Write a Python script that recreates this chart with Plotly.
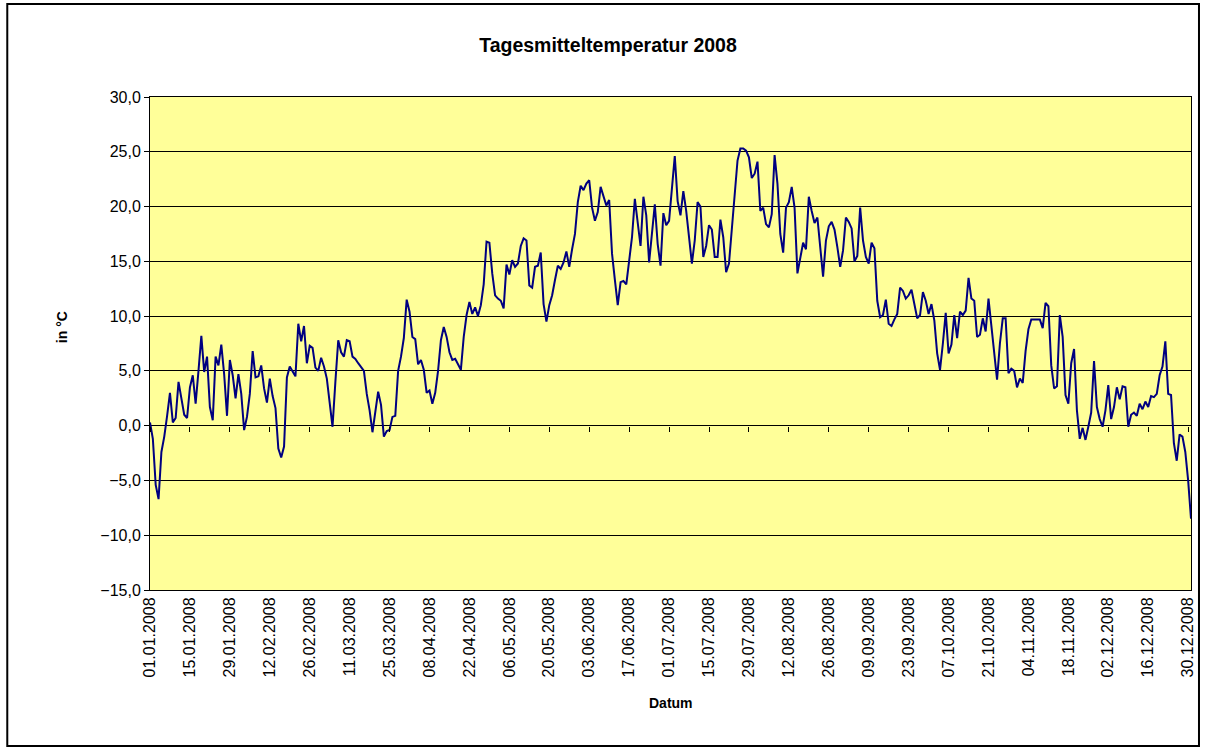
import pandas as pd
import plotly.graph_objects as go

# ---- data -------------------------------------------------------------
start_date = "2008-01-01"
temperature = [
    0.3, -1.2, -5.4, -6.7, -2.4, -1.0, 0.9, 3.0, 0.3, 0.7,
    4.0, 2.6, 1.0, 0.7, 3.5, 4.6, 2.0, 5.0, 8.2, 4.9,
    6.3, 1.7, 0.5, 6.3, 5.5, 7.4, 4.7, 0.9, 6.0, 4.6,
    2.5, 4.7, 2.9, -0.4, 0.8, 2.9, 6.8, 4.4, 4.5, 5.5,
    3.4, 2.1, 4.3, 2.7, 1.6, -2.1, -2.9, -1.9, 4.4, 5.4,
    4.9, 4.5, 9.3, 7.7, 9.1, 5.7, 7.3, 7.1, 5.3, 5.0,
    6.2, 5.4, 4.3, 2.0, -0.1, 4.0, 7.8, 6.7, 6.3, 7.8,
    7.7, 6.3, 6.1, 5.7, 5.4, 5.0, 2.9, 1.4, -0.6, 1.4,
    3.1, 1.9, -1.0, -0.5, -0.4, 0.8, 0.9, 5.0, 6.3, 8.0,
    11.5, 10.4, 8.1, 7.9, 5.6, 6.0, 5.1, 3.0, 3.2, 2.0,
    3.0, 5.0, 7.8, 9.0, 8.1, 6.7, 6.0, 6.1, 5.6, 5.1,
    8.1, 10.1, 11.3, 10.2, 10.8, 10.0, 11.0, 12.9, 16.8, 16.7,
    13.9, 11.9, 11.6, 11.4, 10.7, 14.7, 13.8, 15.1, 14.5, 14.8,
    16.4, 17.1, 16.9, 12.8, 12.6, 14.5, 14.6, 15.8, 11.1, 9.5,
    11.0, 11.9, 13.3, 14.6, 14.3, 14.9, 15.9, 14.5, 16.1, 17.5,
    20.4, 21.9, 21.5, 22.1, 22.4, 19.9, 18.7, 19.5, 21.8, 20.9,
    20.1, 20.6, 15.7, 13.3, 11.0, 13.1, 13.2, 12.9, 15.2, 17.2,
    20.7, 18.7, 16.4, 20.9, 19.2, 14.9, 17.8, 20.2, 16.6, 14.6,
    19.4, 18.3, 18.7, 21.8, 24.6, 20.5, 19.2, 21.4, 19.6, 17.2,
    14.8, 16.9, 20.4, 20.0, 15.4, 16.4, 18.3, 17.9, 15.4, 15.4,
    18.8, 17.2, 14.0, 14.8, 17.8, 21.5, 24.2, 25.3, 25.3, 25.1,
    24.5, 22.6, 23.0, 24.1, 19.6, 19.9, 18.4, 18.1, 19.3, 24.7,
    22.1, 17.5, 15.8, 19.9, 20.4, 21.8, 19.9, 13.9, 15.2, 16.7,
    16.1, 20.9, 19.6, 18.5, 19.0, 16.3, 13.6, 16.9, 18.2, 18.6,
    17.9, 16.3, 14.5, 16.0, 19.0, 18.6, 18.0, 15.0, 15.5, 19.9,
    16.9, 15.4, 14.8, 16.7, 16.2, 11.4, 9.9, 10.1, 11.5, 9.3,
    9.1, 9.7, 10.2, 12.6, 12.3, 11.6, 11.9, 12.4, 11.0, 9.8,
    10.1, 12.2, 11.4, 10.2, 11.1, 9.6, 6.6, 5.1, 7.5, 10.3,
    6.6, 7.4, 10.1, 8.0, 10.4, 10.1, 10.5, 13.5, 11.6, 11.4,
    8.1, 8.3, 9.8, 8.6, 11.6, 9.0, 6.4, 4.2, 7.5, 9.8,
    9.8, 4.8, 5.2, 5.0, 3.5, 4.3, 3.9, 6.8, 8.8, 9.7,
    9.7, 9.7, 9.7, 8.9, 11.2, 10.9, 5.5, 3.4, 3.6, 10.1,
    8.1, 2.8, 2.0, 5.7, 7.0, 1.4, -1.2, -0.2, -1.3, -0.1,
    1.2, 5.9, 1.7, 0.6, -0.1, 1.4, 3.7, 0.6, 1.7, 3.5,
    2.4, 3.6, 3.5, -0.1, 1.0, 1.2, 0.9, 2.0, 1.5, 2.2,
    1.7, 2.7, 2.6, 2.9, 4.6, 5.4, 7.7, 2.9, 2.8, -1.6,
    -3.2, -0.8, -1.0, -2.4, -5.0, -8.5,
]
tick_labels = [
    "01.01.2008", "15.01.2008", "29.01.2008", "12.02.2008", "26.02.2008",
    "11.03.2008", "25.03.2008", "08.04.2008", "22.04.2008", "06.05.2008",
    "20.05.2008", "03.06.2008", "17.06.2008", "01.07.2008", "15.07.2008",
    "29.07.2008", "12.08.2008", "26.08.2008", "09.09.2008", "23.09.2008",
    "07.10.2008", "21.10.2008", "04.11.2008", "18.11.2008", "02.12.2008",
    "16.12.2008", "30.12.2008",
]
y_range = [-15, 30]
title_text = "Tagesmitteltemperatur 2008"
x_title = "Datum"
y_title = "in °C"

# ---- derived ----------------------------------------------------------
dates = pd.date_range(start_date, periods=len(temperature), freq="D")
tick_vals = [pd.to_datetime(t, format="%d.%m.%Y") for t in tick_labels]
x_range = [dates[0], dates[-1]]

FONT = "Liberation Sans, Arial, Helvetica, sans-serif"
W, H = 1208, 751
L, R, T, B = 150, 15, 97, 161
pw, ph = W - L - R, H - T - B


def px_to_paper(x, y):
    return (x - L) / pw, (H - B - y) / ph


fig = go.Figure()
fig.add_trace(go.Scatter(
    x=dates, y=temperature, mode="lines",
    line=dict(color="#000080", width=2), hoverinfo="x+y", showlegend=False,
))
# invisible helper so the tick-mark axis at the 0 line gets drawn
fig.add_trace(go.Scatter(
    x=dates, y=temperature, mode="lines", xaxis="x2", opacity=0,
    hoverinfo="skip", showlegend=False,
))

zero_pos = (0 - y_range[0]) / (y_range[1] - y_range[0])

fig.update_layout(
    width=W, height=H,
    margin=dict(l=L, r=R, t=T, b=B, pad=0),
    paper_bgcolor="white",
    plot_bgcolor="#FFFF99",
    separators=",.",
    font=dict(family=FONT, color="black", size=15),
    title=dict(text="<b>%s</b>" % title_text, x=608 / W, xref="container",
               xanchor="center", y=1 - 45 / H, yref="container",
               yanchor="middle", font=dict(size=19.5, family=FONT)),
    xaxis=dict(
        type="date", range=x_range, tickvals=tick_vals, ticktext=tick_labels,
        tickangle=-90, ticks="", showgrid=False, zeroline=False,
        showline=True, linecolor="black", linewidth=1, mirror=True,
        tickfont=dict(size=16, family=FONT),
    ),
    xaxis2=dict(
        type="date", range=x_range, tickvals=tick_vals, overlaying="x",
        anchor="free", position=zero_pos, side="bottom",
        ticks="outside", ticklen=5, tickcolor="black", tickwidth=1,
        showticklabels=False, showgrid=False, zeroline=False, showline=False,
    ),
    yaxis=dict(
        range=y_range, dtick=5, tick0=0, tickformat=".1f",
        ticks="outside", ticklen=5, tickcolor="black", tickwidth=1,
        showgrid=True, gridcolor="black", gridwidth=1, zeroline=False,
        showline=True, linecolor="black", linewidth=1, mirror=True,
        tickfont=dict(size=16, family=FONT),
    ),
    hovermode="closest",
)

ax, ay = px_to_paper(62, 327)
fig.add_annotation(text="<b>%s</b>" % y_title, x=ax, y=ay, xref="paper",
                   yref="paper", textangle=-90, showarrow=False,
                   xanchor="center", yanchor="middle",
                   font=dict(size=14, family=FONT))
dx, dy = px_to_paper(0, 703)
fig.add_annotation(text="<b>%s</b>" % x_title, x=0.5, y=dy, xref="paper",
                   yref="paper", showarrow=False, xanchor="center",
                   yanchor="middle", font=dict(size=14, family=FONT))

fx0, fy0 = px_to_paper(7, 746)
fx1, fy1 = px_to_paper(1201, 4)
fig.add_shape(type="rect", xref="paper", yref="paper", x0=fx0, y0=fy0,
              x1=fx1, y1=fy1, line=dict(color="black", width=2),
              fillcolor="rgba(0,0,0,0)", layer="above")

fig.write_html(
    "out.html",
    post_script=(
        "document.body.style.margin='0';"
        "document.body.style.overflow='hidden';"
        "var st=document.createElement('style');"
        "st.innerHTML='.modebar-container{display:none !important;}';"
        "document.head.appendChild(st);"
    ),
)
